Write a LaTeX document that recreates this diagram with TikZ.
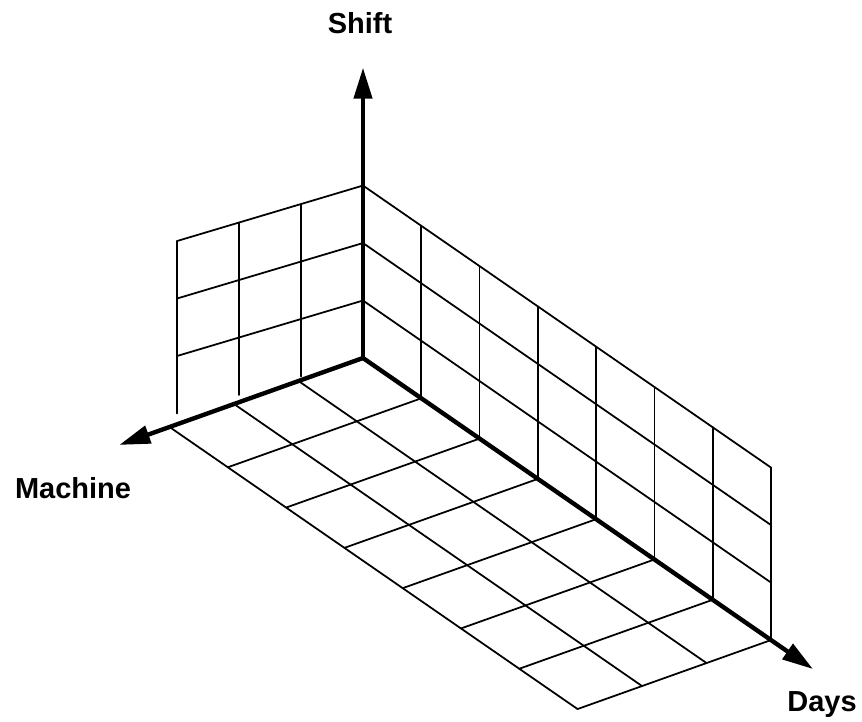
\documentclass[tikz,border=0pt]{standalone}
\usepackage{fontspec}
\setmainfont{Liberation Sans}
\usetikzlibrary{arrows.meta}
\begin{document}
\begin{tikzpicture}[
  x=0.02cm, y=-0.02cm,
  gridline/.style={line width=1pt, line cap=round},
  axisline/.style={line width=2.5pt, -{Triangle[length=0.62cm,width=0.36cm]}},
  axislabel/.style={font=\bfseries\fontsize{16.5}{18}\selectfont, inner sep=0pt}
]
\useasboundingbox (0,0) rectangle (862,721);

% floor and days/shift wall
\begin{scope}[shift={(363,358)}, x={(1.166cm,-0.806cm)}, y={(0cm,1.15cm)}, z={(-1.29cm,-0.46cm)}]
  \coordinate (O) at (0,0,0);
  \coordinate (shifttip) at (0,5.05,0);
  \coordinate (daystip) at (7.72,0,0);
  \coordinate (machinetip) at (0,0,3.78);
  \foreach \i in {1,...,7} \draw[gridline] (\i,0,0) -- (\i,0,3);
  \foreach \j in {1,...,3} \draw[gridline] (0,0,\j) -- (7,0,\j);
  \foreach \i in {1,...,7} \draw[gridline] (\i,0,0) -- (\i,3,0);
  \foreach \k in {1,...,3} \draw[gridline] (0,\k,0) -- (7,\k,0);
\end{scope}

% machine/shift wall
\begin{scope}[shift={(363,358)}, y={(0cm,1.15cm)}, z={(-1.24cm,-0.37cm)}]
  \foreach \j in {1,...,3} \draw[gridline] (0,0,\j) -- (0,3,\j);
  \foreach \k in {1,...,3} \draw[gridline] (0,\k,0) -- (0,\k,3);
\end{scope}

% axes
\draw[axisline] (O) -- (shifttip);
\draw[axisline] (O) -- (daystip);
\draw[axisline] (O) -- (machinetip);

\node[axislabel] (shift) at (360,23) {Shift};
\node[axislabel] (machine) at (73,488) {Machine};
\node[axislabel] (days) at (822,705) {Days};

\end{tikzpicture}
\end{document}
